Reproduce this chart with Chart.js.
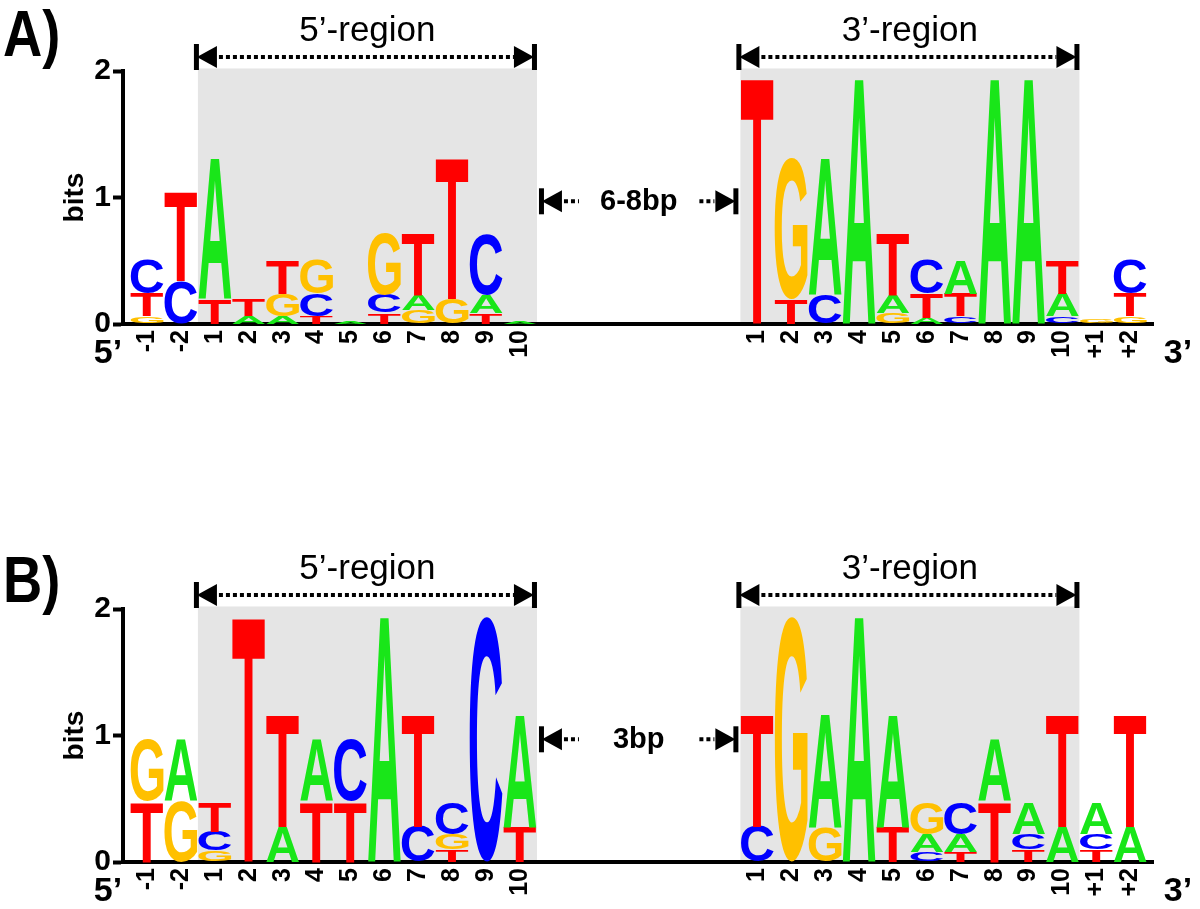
<!DOCTYPE html>
<html>
<head>
<meta charset="utf-8">
<script src="https://cdn.jsdelivr.net/npm/chart.js@4.4.1/dist/chart.umd.min.js"></script>
<style>
  body { margin: 0; background: #fff; }
  .panel { position: absolute; left: 0; width: 1200px; height: 371px; }
</style>
</head>
<body>
<div class="panel" style="top:0"><canvas id="logoA" width="1200" height="371"></canvas></div>
<div class="panel" style="top:538px"><canvas id="logoB" width="1200" height="371"></canvas></div>
<script>
// positions of the two regions
const labels5 = ["-1", "-2", "1", "2", "3", "4", "5", "6", "7", "8", "9", "10"];
const labels3 = ["1", "2", "3", "4", "5", "6", "7", "8", "9", "10", "+1", "+2"];
const gapCols = 6;
const yTicks = [0, 1, 2];

// letters per column, bottom to top, with their heights in bits
const a5Letters = [["G","T","C"], ["C","T"], ["T","A"], ["A","T"], ["A","G","T"], ["T","C","G"], ["A"], ["T","C","G"], ["G","A","T"], ["G","T"], ["T","A","C"], ["A"]];
const a5Bits = [[0.06,0.18,0.27], [0.34,0.71], [0.2,1.12], [0.06,0.13], [0.06,0.18,0.27], [0.06,0.18,0.27], [0.02], [0.09,0.14,0.49], [0.11,0.12,0.49], [0.2,1.12], [0.09,0.14,0.48], [0.02]];
const a3Letters = [["T"], ["T","G"], ["C","A"], ["A"], ["G","A","T"], ["A","T","C"], ["C","T","A"], ["A"], ["A"], ["C","A","T"], ["G"], ["G","T","C"]];
const a3Bits = [[1.96], [0.2,1.11], [0.23,1.09], [1.96], [0.09,0.14,0.49], [0.05,0.19,0.27], [0.06,0.18,0.27], [1.96], [1.96], [0.06,0.18,0.27], [0.03], [0.06,0.18,0.27]];

const b5Letters = [["T","G"], ["G","A"], ["G","C","T"], ["T"], ["A","T"], ["T","A"], ["T","C"], ["A"], ["C","T"], ["T","G","C"], ["C"], ["T","A"]];
const b5Bits = [[0.48,0.49], [0.48,0.49], [0.09,0.15,0.24], [1.95], [0.28,0.89], [0.48,0.49], [0.48,0.49], [1.96], [0.28,0.89], [0.1,0.12,0.25], [1.94], [0.28,0.89]];
const b3Letters = [["C","T"], ["G"], ["G","A"], ["A"], ["T","A"], ["C","A","G"], ["T","A","C"], ["T","A"], ["T","C","A"], ["A","T"], ["T","C","A"], ["A","T"]];
const b3Bits = [[0.28,0.89], [1.94], [0.27,0.9], [1.96], [0.28,0.89], [0.08,0.14,0.25], [0.08,0.14,0.25], [0.48,0.49], [0.1,0.12,0.25], [0.28,0.89], [0.1,0.12,0.25], [0.28,0.89]];

const letterColors = { A: "#19e619", C: "#0000ff", G: "#ffc000", T: "#ff0000" };
const FONT = '"Liberation Sans", Arial, sans-serif';

// x positions of every column (gap columns left empty)
const xPos5 = labels5.map((_, i) => i);
const xPos3 = labels3.map((_, i) => labels5.length + gapCols + i);
const tickPos = xPos5.concat(xPos3);
const tickText = labels5.concat(labels3);

function buildDatasets(letters5, bits5, letters3, bits3) {
  const letters = letters5.concat(letters3);
  const bits = bits5.concat(bits3);
  const layers = Math.max(...bits.map(b => b.length));
  const sets = [];
  for (let k = 0; k < layers; k++) {
    sets.push({
      data: bits.map((b, i) => ({ x: tickPos[i], y: b[k] || 0 })),
      letters: letters.map(l => l[k] || ""),
      backgroundColor: "rgba(0,0,0,0)",
      borderWidth: 0,
      categoryPercentage: 1,
      barPercentage: 0.97
    });
  }
  return sets;
}

// draws each stacked bar as a stretched letter
const logoLetters = {
  id: "logoLetters",
  afterDatasetsDraw(chart) {
    const ctx = chart.ctx;
    ctx.save();
    ctx.font = "bold 100px " + FONT;
    ctx.textAlign = "left";
    ctx.textBaseline = "alphabetic";
    chart.data.datasets.forEach((ds, di) => {
      chart.getDatasetMeta(di).data.forEach((bar, i) => {
        const ch = ds.letters[i];
        const p = bar.getProps(["x", "y", "base", "width"], true);
        const h = Math.abs(p.base - p.y);
        if (!ch || h < 0.6) return;
        const m = ctx.measureText(ch);
        const gw = m.actualBoundingBoxLeft + m.actualBoundingBoxRight;
        const gh = m.actualBoundingBoxAscent + m.actualBoundingBoxDescent;
        ctx.save();
        ctx.translate(p.x - p.width / 2, Math.min(p.y, p.base));
        ctx.scale(p.width / gw, h / gh);
        ctx.fillStyle = letterColors[ch];
        ctx.fillText(ch, m.actualBoundingBoxLeft, m.actualBoundingBoxAscent);
        ctx.restore();
      });
    });
    ctx.restore();
  }
};

function regionEdges(scale) {
  const i5a = labels5.indexOf("1"), i5b = labels5.indexOf("10");
  const i3a = labels3.indexOf("1"), i3b = labels3.indexOf("10");
  return [
    [scale.getPixelForValue(xPos5[i5a] - 0.5), scale.getPixelForValue(xPos5[i5b] + 0.5)],
    [scale.getPixelForValue(xPos3[i3a] - 0.5), scale.getPixelForValue(xPos3[i3b] + 0.5)]
  ];
}

function arrowEnds(ctx, xa, xb, y) {
  ctx.fillRect(xa - 2, y - 13, 5, 26);
  ctx.fillRect(xb - 3, y - 13, 5, 26);
  ctx.beginPath();
  ctx.moveTo(xa + 1, y); ctx.lineTo(xa + 21, y - 11); ctx.lineTo(xa + 21, y + 11);
  ctx.closePath(); ctx.fill();
  ctx.beginPath();
  ctx.moveTo(xb - 1, y); ctx.lineTo(xb - 21, y - 11); ctx.lineTo(xb - 21, y + 11);
  ctx.closePath(); ctx.fill();
}

function dots(ctx, x0, x1, y) {
  ctx.save();
  ctx.strokeStyle = "#000";
  ctx.lineWidth = 4;
  ctx.setLineDash([4, 3]);
  ctx.beginPath();
  ctx.moveTo(x0, y); ctx.lineTo(x1, y);
  ctx.stroke();
  ctx.restore();
}

const panelDecor = {
  id: "panelDecor",
  beforeDraw(chart) {
    const { ctx, scales: { x, y } } = chart;
    ctx.save();
    ctx.fillStyle = "#e5e5e5";
    const top = y.getPixelForValue(2.02), bottom = y.getPixelForValue(0);
    regionEdges(x).forEach(([a, b]) => ctx.fillRect(a, top, b - a, bottom - top));
    ctx.restore();
  },
  afterDraw(chart, args, opts) {
    const { ctx, chartArea, scales: { x, y } } = chart;
    const edges = regionEdges(x);
    ctx.save();
    ctx.fillStyle = "#000";
    // region headers
    const names = ["5\u2019-region", "3\u2019-region"];
    edges.forEach(([a, b], i) => {
      ctx.font = "35px " + FONT;
      ctx.textAlign = "center";
      ctx.textBaseline = "alphabetic";
      ctx.fillText(names[i], (a + b) / 2, 41);
      arrowEnds(ctx, a - 2, b - 2, 57);
      dots(ctx, a + 21, b - 23, 57);
    });
    // spacer between regions
    const ga = edges[0][1] + 4, gb = edges[1][0] - 4, gy = y.getPixelForValue(0.97);
    arrowEnds(ctx, ga, gb, gy);
    dots(ctx, ga + 23, ga + 38, gy);
    dots(ctx, gb - 37, gb - 22, gy);
    ctx.font = "bold 29px " + FONT;
    ctx.textAlign = "center";
    ctx.textBaseline = "middle";
    ctx.fillText(opts.gap, (ga + gb) / 2, gy + 1);
    // y axis title
    ctx.save();
    ctx.translate(75, (chartArea.top + chartArea.bottom) / 2);
    ctx.rotate(-Math.PI / 2);
    ctx.font = "bold 28px " + FONT;
    ctx.textAlign = "center";
    ctx.textBaseline = "middle";
    ctx.fillText("bits", 0, 0);
    ctx.restore();
    // strand ends
    ctx.font = "bold 34px " + FONT;
    ctx.fillText("5\u2019", 108, 354);
    ctx.fillText("3\u2019", 1178, 354);
    // panel tag
    ctx.save();
    ctx.translate(3, opts.tagY);
    ctx.scale(0.85, 1);
    ctx.font = "bold 64px " + FONT;
    ctx.textAlign = "left";
    ctx.textBaseline = "alphabetic";
    ctx.fillText(opts.tag, 0, 0);
    ctx.restore();
    ctx.restore();
  }
};

function makeLogo(id, datasets, tag, gap, tagY) {
  return new Chart(document.getElementById(id), {
    type: "bar",
    data: { datasets: datasets },
    plugins: [panelDecor, logoLetters],
    options: {
      responsive: false,
      animation: false,
      layout: { padding: { top: 71, right: 47, left: 0, bottom: 0 } },
      plugins: {
        legend: { display: false },
        tooltip: { enabled: false },
        panelDecor: { tag: tag, gap: gap, tagY: tagY }
      },
      scales: {
        x: {
          type: "linear",
          offset: false,
          min: -0.71,
          max: 29.67,
          stacked: true,
          afterFit(s) { s.height = 47; },
          afterBuildTicks(s) { s.ticks = tickPos.map(v => ({ value: v })); },
          ticks: {
            autoSkip: false,
            minRotation: 90,
            maxRotation: 90,
            padding: 6,
            color: "#000",
            font: { family: FONT, size: 25, weight: "bold" },
            callback: (v, i) => tickText[i]
          },
          grid: { display: false, drawTicks: false },
          border: { width: 4, color: "#000" }
        },
        y: {
          min: 0,
          max: 2,
          stacked: true,
          afterFit(s) { s.width = 123; },
          afterBuildTicks(s) { s.ticks = yTicks.map(v => ({ value: v })); },
          ticks: {
            color: "#000",
            padding: 2,
            font: { family: FONT, size: 30, weight: "bold" }
          },
          grid: { drawOnChartArea: false, tickLength: 10, tickWidth: 4, tickColor: "#000" },
          border: { width: 4, color: "#000" }
        }
      }
    }
  });
}

makeLogo("logoA", buildDatasets(a5Letters, a5Bits, a3Letters, a3Bits), "A)", "6-8bp", 56);
makeLogo("logoB", buildDatasets(b5Letters, b5Bits, b3Letters, b3Bits), "B)", "3bp", 64);
</script>
</body>
</html>
